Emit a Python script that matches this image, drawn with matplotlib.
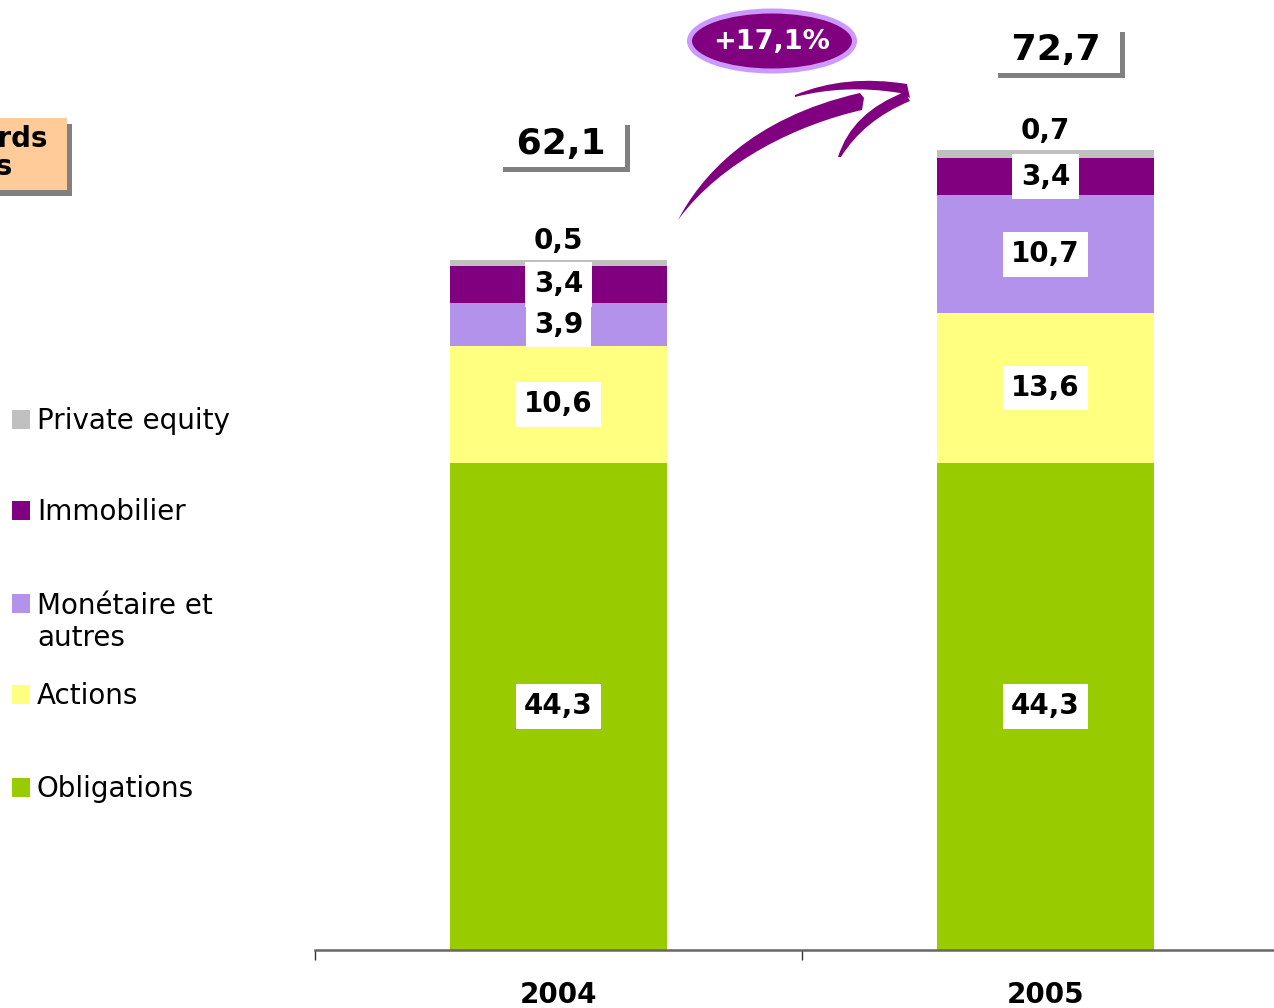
import matplotlib
matplotlib.use('Agg')
import matplotlib.pyplot as plt
from matplotlib.patches import Rectangle, Ellipse, PathPatch
from matplotlib.path import Path
from matplotlib.transforms import Affine2D
import matplotlib.patheffects as pe
import numpy as np

# ---------------- data ----------------
years = ['2004', '2005']
series = ['Obligations', 'Actions', 'Monétaire et\nautres', 'Immobilier', 'Private equity']
obligations = [44.3, 44.3]
actions = [10.6, 13.6]
monetaire = [3.9, 10.7]
immobilier = [3.4, 3.4]
private_equity = [0.5, 0.7]
totals = ['62,1', '72,7']
growth = '+17,1%'
unit_label = "En milliards\nd'euros"
colors = ['#99CC00', '#FFFF80', '#B392EC', '#800080', '#C0C0C0']

W, H = 1274, 1008
fig = plt.figure(figsize=(W / 100, H / 100), dpi=100)
# transform: image pixel coordinates (origin top-left)
px = Affine2D().scale(1 / W, -1 / H).translate(0, 1) + fig.transFigure

ax = fig.add_axes([315 / W, 58 / H, (W - 315) / W, 950 / H])
ax.patch.set_visible(False)

def fmt(v):
    return f"{v:.1f}".replace('.', ',')

x = np.arange(len(years))
values = [obligations, actions, monetaire, immobilier, private_equity]
bottom = np.zeros(len(years))
bw = 0.446
for k, (vals, c) in enumerate(zip(values, colors)):
    vals = np.array(vals)
    ax.bar(x, vals, bw, bottom=bottom, color=c, zorder=2, linewidth=0)
    for i in range(len(years)):
        if k < len(values) - 1:
            ax.text(x[i], bottom[i] + vals[i] / 2, fmt(vals[i]), ha='center', va='center',
                    fontsize=20, fontweight='bold', color='black', zorder=5,
                    bbox=dict(boxstyle='square,pad=0.3', fc='white', ec='none'))
        else:
            ax.annotate(fmt(vals[i]), xy=(x[i], bottom[i] + vals[i]), xytext=(0, 4),
                        textcoords='offset points', ha='center', va='bottom',
                        fontsize=20, fontweight='bold', color='black', zorder=5)
    bottom += vals

# totals with shadowed boxes
tot_offsets = [(2.0, 84), (8.0, 72)]
for i, t in enumerate(totals):
    dx, dy = tot_offsets[i]
    txt = ax.annotate(' ' + t + ' ', xy=(x[i], bottom[i]), xytext=(dx, dy),
                      textcoords='offset points', ha='center', va='center',
                      fontsize=26, fontweight='bold', color='black', zorder=4,
                      bbox=dict(boxstyle='square,pad=0.17', fc='white', ec='none'),
                      annotation_clip=False)
    txt.get_bbox_patch().set_path_effects([
        pe.SimplePatchShadow(offset=(3.6, -3.6), shadow_rgbFace='#808080', alpha=1.0),
        pe.Normal()])

ax.set_xticks(x)
ax.set_xticklabels(years, fontsize=20, fontweight='bold')
ax.set_xticks([-0.5, 0.5, 1.5], minor=True)
ax.tick_params(axis='x', which='major', length=0, pad=22)
ax.tick_params(axis='x', which='minor', length=7.5, width=1, color='#333333', direction='out')
ax.set_yticks([])
ax.set_xlim(-0.5, -0.5 + (W - 315) / 487)
ax.set_ylim(0, 950 / 11.0)
for s in ['top', 'right', 'left']:
    ax.spines[s].set_visible(False)
ax.spines['bottom'].set_color('#666666')
ax.spines['bottom'].set_linewidth(1.8)

# legend (manual)
legend_y = [419, 510, 603, 694, 787]
line_step = 33
for lab, c, yc in zip(series[::-1], colors[::-1], legend_y):
    n = lab.count('\n')
    fig.add_artist(Rectangle((12, yc - 9.5), 18, 19, transform=px, fc=c, ec='none'))
    fig.text(37, yc + 10 + n * line_step, lab, transform=px, va='baseline', ha='left',
             fontsize=20, color='black', linespacing=1.18)

# unit box (partly outside figure)
fig.add_artist(Rectangle((-20 + 5, 118 + 6), 87, 72, transform=px, fc='#808080', ec='none'))
fig.add_artist(Rectangle((-20, 118), 87, 72, transform=px, fc='#FFCC99', ec='none'))
fig.text(-45, 153, unit_label, transform=px, ha='center', va='center', fontsize=20,
         fontweight='bold', linespacing=1.0, multialignment='center')

# growth ellipse
fig.add_artist(Ellipse((772, 41), 165, 60, transform=px, fc='#800080', ec='#CC99FF', lw=3.6))
fig.text(772, 42, growth, transform=px, ha='center', va='center', fontsize=19.5,
         fontweight='bold', color='white')

# brush arrow
arrow_col = '#800080'
body = Path([(678, 220), (700, 178), (750, 118), (860, 93),
             (864, 98), (862, 110),
             (800, 124), (722, 160), (678, 220), (678, 220)],
            [Path.MOVETO, Path.CURVE4, Path.CURVE4, Path.CURVE4,
             Path.LINETO, Path.LINETO,
             Path.CURVE4, Path.CURVE4, Path.CURVE4, Path.CLOSEPOLY])
fig.add_artist(PathPatch(body, transform=px, fc=arrow_col, ec='none'))
stroke_a = Path([(795, 95), (845, 74), (907, 84), (910, 98), (900, 93),
                 (845, 84), (795, 97), (795, 95)],
                [Path.MOVETO, Path.CURVE3, Path.CURVE3, Path.LINETO, Path.LINETO,
                 Path.CURVE3, Path.CURVE3, Path.CLOSEPOLY])
fig.add_artist(PathPatch(stroke_a, transform=px, fc=arrow_col, ec='none'))
stroke_b = Path([(905, 92), (852, 112), (838, 157), (841, 157),
                 (864, 120), (910, 101), (905, 92)],
                [Path.MOVETO, Path.CURVE3, Path.CURVE3, Path.LINETO,
                 Path.CURVE3, Path.CURVE3, Path.CLOSEPOLY])
fig.add_artist(PathPatch(stroke_b, transform=px, fc=arrow_col, ec='none'))

fig.savefig('out.png', dpi=100)
